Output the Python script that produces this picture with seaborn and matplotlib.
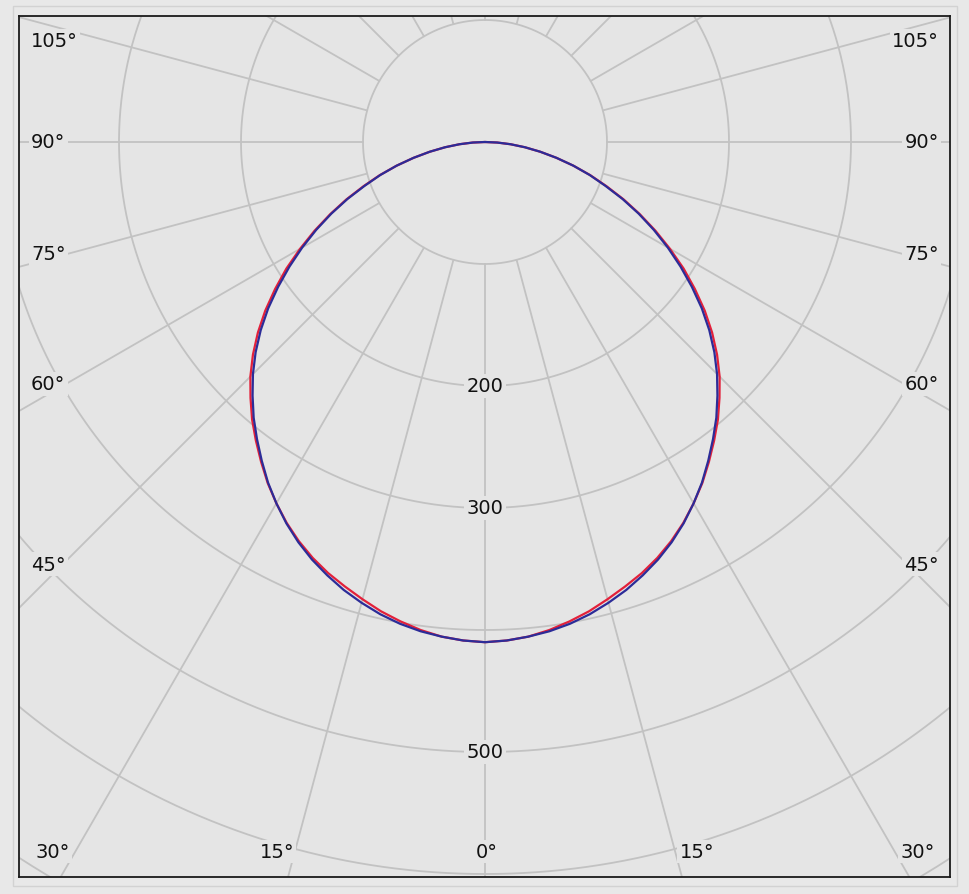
import numpy as np
import pandas as pd
import seaborn as sns
import matplotlib.pyplot as plt
from matplotlib.patches import Rectangle

# luminous intensity (cd) per gamma angle
gamma = [0, 2.5, 5, 7.5, 10, 12.5, 15, 17.5, 20, 22.5, 25, 27.5, 30, 32.5, 35, 37.5, 40, 42.5, 45,
         47.5, 50, 52.5, 55, 57.5, 60, 62.5, 65, 67.5, 70, 72.5, 75, 77.5, 80, 82.5, 85, 87.5, 90]
c0_c180 = [410, 409, 407, 403.5, 399, 394, 388, 382, 376, 369, 361, 352, 342, 331.5, 320, 308.5, 297,
           284.5, 272, 258, 243, 227, 210, 193, 175, 157.5, 140, 123, 106, 90.5, 75, 60, 46, 33, 21, 10, 0]
c90_c270 = [410, 409, 407, 404.5, 401, 396.5, 391, 385, 378, 370.5, 362, 352.5, 342, 331, 319, 307, 295,
            282, 269, 255, 240, 224, 207, 190, 173, 156, 139, 122, 105, 90, 75, 60, 46, 33, 21, 10, 0]

ring_values = [100, 200, 300, 400, 500, 600, 700, 800]
ring_labels = [200, 300, 500]
spoke_angles = list(range(0, 360, 15))

# angle labels, positions in axes fraction
side_labels = [("105°", 0.971), ("90°", 0.854), ("75°", 0.7236), ("60°", 0.5726), ("45°", 0.3635)]
bottom_labels = [("30°", 0.036), ("15°", 0.277), ("0°", 0.502), ("15°", 0.728), ("30°", 0.965)]

bg = "#e5e5e5"
grid_col = "#c2c2c2"

sns.set_theme(style="white")
plt.rcParams["font.family"] = ["DejaVu Sans"]

fig = plt.figure(figsize=(9.69, 8.95), dpi=100, facecolor="#e8e8e8")
ax = fig.add_axes([19 / 969, 17 / 895, 931 / 969, 861 / 895])
ax.set_facecolor(bg)

# polar grid drawn in cartesian data units (cd)
t = np.linspace(0, 2 * np.pi, 721)
for r in ring_values:
    ax.plot(r * np.sin(t), -r * np.cos(t), color=grid_col, lw=1.3, zorder=1)
for a in spoke_angles:
    rad = np.deg2rad(a)
    ax.plot([100 * np.sin(rad), 1200 * np.sin(rad)], [-100 * np.cos(rad), -1200 * np.cos(rad)],
            color=grid_col, lw=1.3, zorder=1)

# build curves: left half (C180 / C270) and right half (C0 / C90)
rows = []
for plane, vals in [("C0-C180", c0_c180), ("C90-C270", c90_c270)]:
    angs = [-g for g in gamma[::-1]] + gamma[1:]
    ints = vals[::-1] + vals[1:]
    for g, i in zip(angs, ints):
        rad = np.deg2rad(g)
        rows.append({"plane": plane, "x": i * np.sin(rad), "y": -i * np.cos(rad)})
df = pd.DataFrame(rows)

sns.lineplot(data=df, x="x", y="y", hue="plane", hue_order=["C0-C180", "C90-C270"],
             palette={"C0-C180": "#e3203a", "C90-C270": "#2c2c98"},
             sort=False, estimator=None, legend=False, linewidth=1.6, ax=ax, zorder=3)

box = dict(facecolor=bg, edgecolor="none", pad=1.5)
for r in ring_labels:
    ax.text(0, -r, str(r), ha="center", va="center", fontsize=14, color="#111111", bbox=box, zorder=2)

for txt, y in side_labels:
    ax.text(0.013, y, txt, transform=ax.transAxes, ha="left", va="center", fontsize=14,
            color="#111111", bbox=box, zorder=2)
    ax.text(0.988, y, txt, transform=ax.transAxes, ha="right", va="center", fontsize=14,
            color="#111111", bbox=box, zorder=2)
for txt, x in bottom_labels:
    ax.text(x, 0.030, txt, transform=ax.transAxes, ha="center", va="center", fontsize=14,
            color="#111111", bbox=box, zorder=2)

ax.set_xlim((19 - 485) / 1.22, (950 - 485) / 1.22)
ax.set_ylim((143 - 878) / 1.22, (143 - 17) / 1.22)
ax.set_xticks([])
ax.set_yticks([])
ax.set_xlabel("")
ax.set_ylabel("")
for s in ax.spines.values():
    s.set_visible(True)
    s.set_color("#1a1a1a")
    s.set_linewidth(1.3)

fig.add_artist(Rectangle((13 / 969, 8 / 895), 944 / 969, 880 / 895, transform=fig.transFigure,
                         fill=False, edgecolor="#d2d2d2", lw=1.0))

fig.savefig("out.png", dpi=100, facecolor=fig.get_facecolor())
